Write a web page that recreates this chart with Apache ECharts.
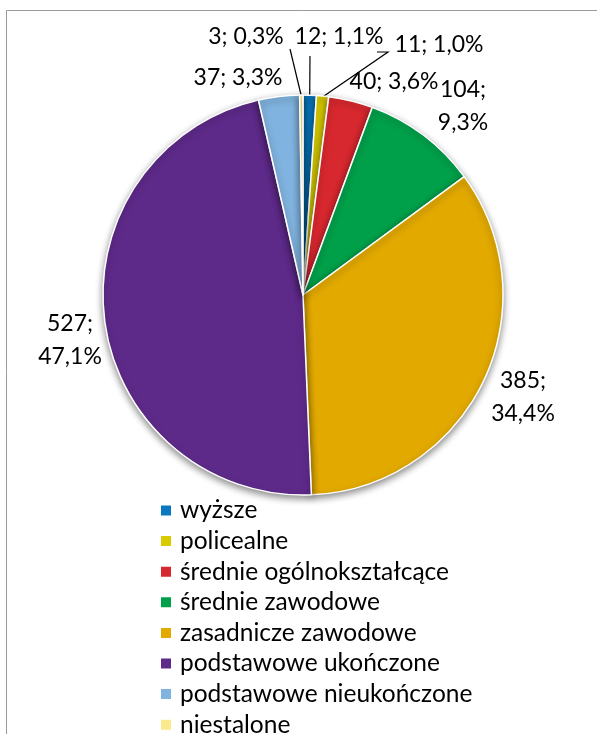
<!DOCTYPE html>
<html>
<head>
<meta charset="utf-8">
<style>
html,body{margin:0;padding:0;background:#fff;}
#chart{width:597px;height:734px;}
</style>
<script src="https://cdn.jsdelivr.net/npm/echarts@6/dist/echarts.min.js"></script>
</head>
<body>
<div id="chart"></div>
<script>
// ---- data ----
const categories = ['wyższe', 'policealne', 'średnie ogólnokształcące', 'średnie zawodowe',
  'zasadnicze zawodowe', 'podstawowe ukończone', 'podstawowe nieukończone', 'niestalone'];
const counts = [12, 11, 40, 104, 385, 527, 37, 3];

// ---- styles / layout ----
const colors = ['#0a78c0', '#d9cb00', '#d8282f', '#00a04a', '#e2a900', '#5e2a8a', '#80b3df', '#fbe98e'];
const twoLineLabel = [false, false, false, true, true, true, false, false];
const showLeader = [true, true, false, false, false, false, false, true];
// label anchor points (centre of label text) in pixels
const labelAnchors = [[339, 37], [439, 45], [394, 82], [463, 106], [523, 397], [70, 340], [238, 78], [246, 37]];
// leader-line label-side points, as offsets from the label centre
const leaderOffsets = [
  [[-29, 19], [-29, 19]],
  [[-51, 7], [-62, 7]],
  null, null, null, null, null,
  [[44, 12], [44, 12]]
];
const FONT = 'Lato';
const CX = 303, CY = 295, R = 200;

const total = counts.reduce((a, b) => a + b, 0);
const pieData = categories.map((name, i) => ({
  name: name,
  value: counts[i],
  itemStyle: { color: colors[i] },
  labelLine: { show: showLeader[i] }
}));

function midAngle(i) {
  let cum = 0;
  for (let k = 0; k < i; k++) cum += counts[k];
  return -Math.PI / 2 + 2 * Math.PI * (cum + counts[i] / 2) / total;
}

const chart = echarts.init(document.getElementById('chart'), null, { renderer: 'canvas' });
chart.setOption({
  animation: false,
  backgroundColor: '#fff',
  graphic: [{
    type: 'polyline',
    shape: { points: [[6.5, 800], [6.5, 10.5], [700, 10.5]] },
    style: { stroke: '#9a9a9a', lineWidth: 1, fill: null },
    silent: true
  }],
  legend: {
    orient: 'vertical',
    left: 159,
    top: 498,
    height: 260,
    padding: 0,
    itemWidth: 12,
    itemHeight: 12,
    itemGap: 5.6,
    icon: 'rect',
    textStyle: { fontFamily: FONT, fontSize: 24.5, lineHeight: 24.5, color: '#000', padding: [0, 0, 0, 3] },
    data: categories
  },
  series: [{
    type: 'pie',
    center: [CX, CY],
    radius: R,
    startAngle: 90,
    clockwise: true,
    data: pieData,
    itemStyle: {
      borderColor: '#fff',
      borderWidth: 1.5,
      shadowColor: 'rgba(0,0,0,0.45)',
      shadowBlur: 7,
      shadowOffsetY: 3
    },
    emphasis: { disabled: true },
    label: {
      show: true,
      position: 'outside',
      overflow: 'none',
      fontFamily: FONT,
      fontSize: 23,
      lineHeight: 33,
      color: '#000',
      formatter: function (p) {
        const pct = (counts[p.dataIndex] / total * 100).toFixed(1).replace('.', ',');
        return counts[p.dataIndex] + ';' + (twoLineLabel[p.dataIndex] ? '\n' : ' ') + pct + '%';
      }
    },
    labelLine: {
      show: true,
      length: 10,
      length2: 10,
      lineStyle: { color: '#000', width: 1.2 }
    },
    labelLayout: function (params) {
      const i = params.dataIndex;
      const a = labelAnchors[i];
      const res = { x: a[0], y: a[1], align: 'center', verticalAlign: 'middle' };
      const off = leaderOffsets[i];
      if (off) {
        const ang = midAngle(i);
        const edge = [CX + (R - 1) * Math.cos(ang), CY + (R - 1) * Math.sin(ang)];
        res.labelLinePoints = [
          [a[0] + off[1][0], a[1] + off[1][1]],
          [a[0] + off[0][0], a[1] + off[0][1]],
          edge
        ];
      }
      return res;
    }
  }]
});
</script>
</body>
</html>
